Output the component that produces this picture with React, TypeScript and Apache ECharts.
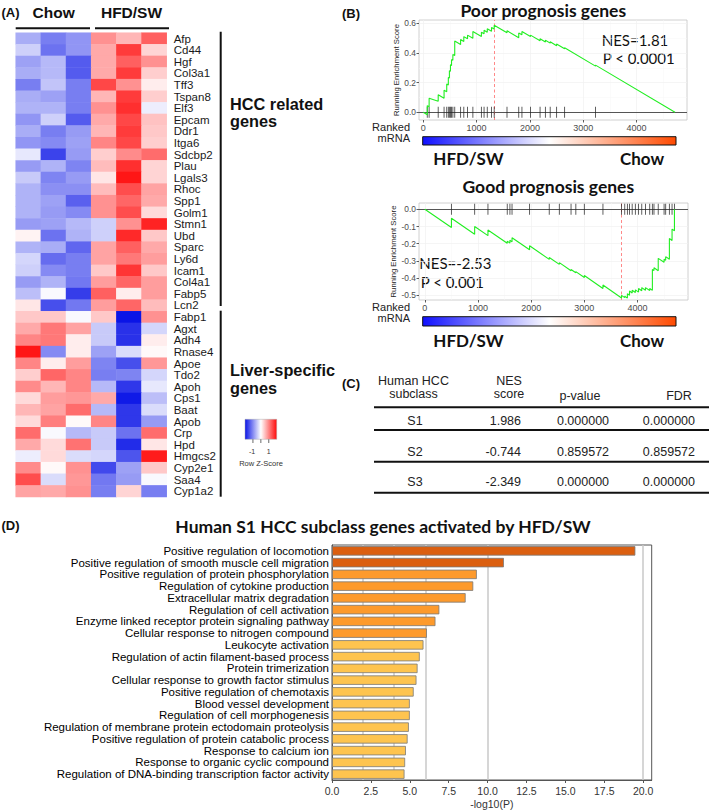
import React, { useEffect, useRef } from "react";
import * as echarts from "echarts";

// ---------------- Panel A data ----------------
const heatColumns = ["Chow 1", "Chow 2", "Chow 3", "HFD/SW 1", "HFD/SW 2", "HFD/SW 3"];
const hccGenes = ["Afp", "Cd44", "Hgf", "Col3a1", "Tff3", "Tspan8", "Elf3", "Epcam", "Ddr1", "Itga6", "Sdcbp2", "Plau", "Lgals3", "Rhoc", "Spp1", "Golm1", "Stmn1", "Ubd", "Sparc", "Ly6d", "Icam1", "Col4a1", "Fabp5", "Lcn2"];
const liverGenes = ["Fabp1", "Agxt", "Adh4", "Rnase4", "Apoe", "Tdo2", "Apoh", "Cps1", "Baat", "Apob", "Crp", "Hpd", "Hmgcs2", "Cyp2e1", "Saa4", "Cyp1a2"];
const zScores: number[][] = [
  [-0.7, -1.1, -0.9, 0.9, 0.6, 1.3],
  [-0.4, -1.2, -0.9, 0.7, 1.6, 0.35],
  [-0.8, -0.6, -1.4, 0.7, 1.3, 0.9],
  [-0.7, -0.6, -1.4, 0.7, 1.6, 0.4],
  [-1.1, -0.5, -1.1, 1.5, 0.9, 0.15],
  [-0.7, -0.8, -1.1, 0.6, 1.6, 0.4],
  [-0.65, -0.65, -1.1, 0.9, 1.7, -0.15],
  [-0.9, -0.4, -1.4, 0.7, 1.5, 0.5],
  [-0.7, -1.1, -0.85, 0.6, 1.6, 0.45],
  [-0.9, -1.0, -0.8, 1.0, 1.5, 0.4],
  [-0.2, -1.6, -0.85, 0.4, 0.95, 1.2],
  [-0.85, -0.65, -1.05, 0.55, 1.7, 0.35],
  [-0.45, -1.05, -0.85, 0.2, 1.9, 0.35],
  [-0.65, -0.95, -0.95, 0.55, 1.45, 0.75],
  [-0.65, -0.8, -1.35, 0.9, 1.25, 0.7],
  [-0.65, -0.85, -1.0, 0.9, 1.45, 0.3],
  [-0.85, -0.8, -0.6, -0.4, 0.9, 1.8],
  [0.1, -1.2, -0.65, -0.4, 1.75, 0.45],
  [-0.65, -0.7, -1.3, 0.75, 1.3, 0.7],
  [-0.35, -1.25, -1.1, 0.75, 1.1, 0.8],
  [-0.4, -1.0, -1.1, 0.45, 1.65, 0.45],
  [-0.85, -0.65, -1.15, 0.8, 1.25, 0.8],
  [-0.55, -0.05, -1.65, 1.3, 0.15, 0.8],
  [0.2, -1.5, -1.15, 0.8, 1.25, 0.55],
  [0.45, 0.45, -0.05, 0.45, -2.0, 0.9],
  [0.7, 1.1, 0.75, -0.45, -1.75, -0.35],
  [1.0, 1.1, 0.15, -0.45, -1.75, 0.15],
  [1.9, -1.0, 0.15, -0.8, -0.3, 0.05],
  [1.0, 0.15, 0.8, -1.05, -1.5, 0.85],
  [0.4, 1.25, 1.0, -1.1, -1.05, -0.35],
  [0.95, 0.6, 1.0, -0.6, -1.7, -0.2],
  [0.3, 0.8, 0.85, 0.7, -1.95, -0.55],
  [0.6, 0.75, 1.2, -0.6, -1.7, -0.3],
  [0.3, 1.05, 0.05, 1.0, -1.7, -0.85],
  [1.2, -0.05, -0.6, -0.45, -1.2, 1.2],
  [0.7, 0.3, 1.15, -0.45, -1.8, 0.2],
  [-0.15, 0.3, -0.3, -0.35, -1.45, 1.85],
  [0.95, 0.05, 0.9, -1.55, -0.8, 0.45],
  [1.45, -0.3, 0.85, -1.15, -0.85, -0.05],
  [0.75, 0.7, 0.9, -1.1, 0.35, -1.1],
];
const zLegendTicks = [-1, 0, 1];
const zLegendLabels = ["-1", "1"];

// ---------------- Panel B data ----------------
const rankTicks = [0, 1000, 2000, 3000, 4000];
const rankMinor = [500, 1500, 2500, 3500, 4500];
const poorYTicks = [0, 0.2, 0.4, 0.6];
const poorYMinor = [0.1, 0.3, 0.5];
const goodYTicks = [0, -0.1, -0.2, -0.3, -0.4, -0.5];
const poorCurveRank = [0, 75, 75, 110, 110, 280, 280, 390, 390, 440, 440, 470, 470, 490, 490, 510, 510, 530, 530, 555, 555, 590, 590, 700, 700, 760, 760, 830, 830, 930, 930, 1090, 1090, 1140, 1140, 1200, 1200, 1280, 1280, 1330, 1330, 1570, 1570, 1790, 1790, 1850, 1850, 2010, 2010, 2190, 2190, 2290, 2290, 2380, 2380, 2500, 2500, 2650, 2650, 3230, 3230, 4720];
const poorCurveScore = [0, -0.016, 0.045, 0.038, 0.094, 0.075, 0.118, 0.095, 0.148, 0.138, 0.19, 0.184, 0.235, 0.231, 0.28, 0.276, 0.32, 0.316, 0.355, 0.35, 0.39, 0.383, 0.48, 0.457, 0.49, 0.477, 0.51, 0.495, 0.52, 0.499, 0.545, 0.511, 0.54, 0.529, 0.553, 0.54, 0.563, 0.546, 0.572, 0.561, 0.587, 0.536, 0.55, 0.503, 0.535, 0.522, 0.545, 0.511, 0.52, 0.482, 0.495, 0.474, 0.485, 0.466, 0.475, 0.449, 0.46, 0.428, 0.435, 0.311, 0.318, 0];
const poorHits = [75, 110, 280, 390, 440, 470, 490, 510, 530, 555, 590, 700, 760, 830, 930, 1090, 1140, 1200, 1280, 1330, 1570, 1790, 1850, 2010, 2190, 2290, 2380, 2500, 2650, 3230];
const poorPeakRank = 1330;

const goodCurveRank = [0, 500, 500, 937, 937, 1187, 1187, 1550, 1550, 1600, 1600, 1640, 1640, 1970, 1970, 2340, 2340, 2530, 2530, 2750, 2750, 2840, 2840, 3000, 3000, 3350, 3350, 3700, 3700, 3760, 3760, 3810, 3810, 3850, 3850, 3900, 3900, 3960, 3960, 4020, 4020, 4080, 4080, 4150, 4150, 4230, 4230, 4280, 4280, 4310, 4310, 4390, 4390, 4500, 4500, 4530, 4530, 4600, 4600, 4650, 4650, 4695, 4695];
const goodCurveScore = [0, -0.106, -0.052, -0.145, -0.1, -0.153, -0.12, -0.197, -0.185, -0.196, -0.18, -0.189, -0.165, -0.235, -0.212, -0.291, -0.28, -0.32, -0.31, -0.357, -0.35, -0.369, -0.362, -0.396, -0.385, -0.46, -0.44, -0.515, -0.5, -0.513, -0.505, -0.516, -0.49, -0.499, -0.475, -0.486, -0.47, -0.483, -0.468, -0.481, -0.46, -0.473, -0.455, -0.47, -0.455, -0.472, -0.46, -0.471, -0.35, -0.356, -0.34, -0.357, -0.285, -0.308, -0.29, -0.296, -0.275, -0.29, -0.17, -0.181, -0.115, -0.125, 0];
const goodHits = [500, 937, 1187, 1550, 1600, 1640, 1970, 2340, 2530, 2750, 2840, 3000, 3350, 3700, 3760, 3810, 3850, 3900, 3960, 4020, 4080, 4150, 4230, 4280, 4310, 4390, 4500, 4530, 4600, 4650, 4695];
const goodPeakRank = 3700;

// ---------------- Panel C data ----------------
const tableSubclass = ["S1", "S2", "S3"];
const tableNES = ["1.986", "-0.744", "-2.349"];
const tablePValue = ["0.000000", "0.859572", "0.000000"];
const tableFDR = ["0.000000", "0.859572", "0.000000"];

// ---------------- Panel D data ----------------
const goTerms = [
  "Positive regulation of locomotion",
  "Positive regulation of smooth muscle cell migration",
  "Positive regulation of protein phosphorylation",
  "Regulation of cytokine production",
  "Extracellular matrix degradation",
  "Regulation of cell activation",
  "Enzyme linked receptor protein signaling pathway",
  "Cellular response to nitrogen compound",
  "Leukocyte activation",
  "Regulation of actin filament-based process",
  "Protein trimerization",
  "Cellular response to growth factor stimulus",
  "Positive regulation of chemotaxis",
  "Blood vessel development",
  "Regulation of cell morphogenesis",
  "Regulation of membrane protein ectodomain proteolysis",
  "Positive regulation of protein catabolic process",
  "Response to calcium ion",
  "Response to organic cyclic compound",
  "Regulation of DNA-binding transcription factor activity",
];
const goValues = [19.5, 11.05, 9.31, 9.08, 8.59, 6.9, 6.65, 6.1, 5.88, 5.64, 5.5, 5.43, 5.25, 5.0, 5.0, 4.94, 4.86, 4.75, 4.7, 4.66];
const goLevel = [0, 0, 1, 1, 1, 1, 1, 1, 2, 2, 2, 2, 2, 2, 2, 2, 2, 2, 2, 2];
const goTicks = [0, 2.5, 5, 7.5, 10, 12.5, 15, 17.5, 20];
const goRefLines = [2, 4, 6, 10, 20];

// ---------------- styling ----------------
const SANS = '"Liberation Sans", Arial, sans-serif';
const CAL = 'Lato, "Liberation Sans", sans-serif';
const levelColors = ["#DB5F10", "#FD9A2C", "#FEC44F"];

function txt(text: string, x: number, y: number, o: any = {}) {
  return {
    type: "text",
    x,
    y,
    silent: true,
    style: {
      text,
      fill: o.fill || "#111",
      fontSize: o.size || 12,
      fontWeight: o.weight || "normal",
      fontFamily: o.family || SANS,
      align: o.align || "left",
      verticalAlign: "middle",
    },
  };
}
function ln(x1: number, y1: number, x2: number, y2: number, w = 1, c = "#111") {
  return { type: "line", silent: true, shape: { x1, y1, x2, y2 }, style: { stroke: c, lineWidth: w } };
}

function gseaAxes(gridIndex: number, xmin: number, xmax: number, ymin: number, ymax: number, yTicks: number[]) {
  const x = {
    gridIndex,
    type: "value",
    min: xmin,
    max: xmax,
    axisLine: { show: false, onZero: false },
    splitLine: { show: false },
    axisTick: { show: true, length: 2.5, lineStyle: { color: "#333", width: 0.8 }, customValues: rankTicks },
    axisLabel: {
      customValues: rankTicks,
      fontSize: 9,
      color: "#4D4D4D",
      margin: 3.5,
      fontFamily: SANS,
      formatter: (v: number) => String(Math.round(v)),
    },
  };
  const y = {
    gridIndex,
    type: "value",
    min: ymin,
    max: ymax,
    axisLine: { show: false, onZero: false },
    splitLine: { show: false },
    axisTick: { show: true, length: 2.5, lineStyle: { color: "#333", width: 0.8 }, customValues: yTicks },
    axisLabel: {
      customValues: yTicks,
      fontSize: 8.4,
      color: "#4D4D4D",
      margin: 3,
      fontFamily: SANS,
      formatter: (v: number) => (Math.abs(v) < 1e-9 ? "0.0" : Number(v).toFixed(1)),
    },
    name: "Running Enrichment Score",
    nameLocation: "middle",
    nameRotate: 90,
    nameGap: 19,
    nameTextStyle: { fontSize: 7.7, color: "#222", fontFamily: SANS },
  };
  return { x, y };
}

function gseaSeries(idx: number, ranks: number[], scores: number[], hits: number[], peak: number, yMajor: number[], yMinor: number[]) {
  const gridColor = "#F0F0F0";
  const minorColor = "#F7F7F7";
  const lines: any[] = [
    ...rankMinor.map((v) => ({ xAxis: v, lineStyle: { color: minorColor, width: 0.5, type: "solid" } })),
    ...yMinor.map((v) => ({ yAxis: v, lineStyle: { color: minorColor, width: 0.5, type: "solid" } })),
    ...rankTicks.map((v) => ({ xAxis: v, lineStyle: { color: gridColor, width: 0.7, type: "solid" } })),
    ...yMajor.map((v) => ({ yAxis: v, lineStyle: { color: gridColor, width: 0.7, type: "solid" } })),
    { yAxis: 0, lineStyle: { color: "#555", width: 1, type: "solid" } },
    { xAxis: peak, lineStyle: { color: "#FF7A7A", width: 0.9, type: [3, 2.5] } },
  ];
  return [
    {
      type: "scatter",
      xAxisIndex: idx,
      yAxisIndex: idx,
      silent: true,
      z: 3,
      symbol: "rect",
      symbolSize: [0.9, 11],
      itemStyle: { color: "#222" },
      data: hits.map((r) => [r, 0]),
      markLine: { silent: true, z: 1, symbol: ["none", "none"], label: { show: false }, emphasis: { disabled: true }, data: lines },
    },
    {
      type: "line",
      xAxisIndex: idx,
      yAxisIndex: idx,
      silent: true,
      z: 4,
      symbol: "none",
      lineStyle: { color: "#22EE22", width: 1.1 },
      data: ranks.map((r, i) => [r, scores[i]]),
    },
  ];
}

function buildOption() {
  const genes = [...hccGenes, ...liverGenes];
  const heatData: any[] = [];
  genes.forEach((g, r) => zScores[r].forEach((v, c) => heatData.push([c, r, v])));

  const top = gseaAxes(1, -80, 4945, -0.052, 0.622, poorYTicks);
  const bot = gseaAxes(2, -110, 4950, -0.527, 0.0366, goodYTicks);

  const grad = (stops: [number, string][]) =>
    new echarts.graphic.LinearGradient(0, 0, 1, 0, stops.map(([offset, color]) => ({ offset, color })));
  const rankGrad = () => grad([[0, "#1010FF"], [0.5, "#FFFFFF"], [1, "#FF4A00"]]);

  const keyX0 = 245, keyW = 31.7, keyMin = -2, keyMax = 2;
  const keyPos = (v: number) => keyX0 + ((v - keyMin) / (keyMax - keyMin)) * keyW;

  const TC = "#222";
  const graphic: any[] = [
    // Panel A
    txt("(A)", 1.5, 12.7, { size: 13, weight: "bold" }),
    txt("Chow", 53.7, 12.7, { size: 15.5, weight: "bold", align: "center" }),
    txt("HFD/SW", 131.5, 12.7, { size: 15.5, weight: "bold", align: "center" }),
    ln(15.7, 28.3, 90, 28.3, 2),
    ln(95, 28.3, 169, 28.3, 2),
    ln(220.7, 31.7, 220.7, 306, 2),
    ln(220.7, 310.7, 220.7, 496.7, 2),
    txt("HCC related", 230, 103.5, { size: 16.3, weight: "bold" }),
    txt("genes", 230, 121, { size: 16.3, weight: "bold" }),
    txt("Liver-specific", 230, 369.8, { size: 16.3, weight: "bold" }),
    txt("genes", 230, 387.5, { size: 16.3, weight: "bold" }),
    {
      type: "rect",
      silent: true,
      shape: { x: keyX0, y: 419.3, width: keyW, height: 20 },
      style: { fill: grad([[0, "#0A14E6"], [0.5, "#FFFFFF"], [1, "#FF0A0A"]]), stroke: "#AAA", lineWidth: 0.5 },
    },
    ...zLegendTicks.map((v) => ln(keyPos(v), 439.3, keyPos(v), 443, 0.8, "#444")),
    txt(zLegendLabels[0], keyPos(-1) - 0.8, 451.7, { size: 7, align: "center", fill: "#333" }),
    txt(zLegendLabels[1], keyPos(1), 451.7, { size: 7, align: "center", fill: "#333" }),
    txt("Row Z-Score", 261, 463.5, { size: 7.5, align: "center", fill: "#333" }),

    // Panel B
    txt("(B)", 342, 13, { size: 13, weight: "bold" }),
    txt("Poor prognosis genes", 543.3, 10.5, { size: 17.5, weight: "bold", family: CAL, align: "center" }),
    txt("NES=1.81", 601.7, 40, { size: 15, family: CAL }),
    txt("P < 0.0001", 602.7, 58.3, { size: 15, family: CAL }),
    txt("Ranked", 410, 127, { size: 11, align: "right", fill: "#222" }),
    txt("mRNA", 410, 137.5, { size: 11, align: "right", fill: "#222" }),
    { type: "rect", silent: true, shape: { x: 422.7, y: 136.7, width: 253.3, height: 8.3 }, style: { fill: rankGrad(), stroke: "#111", lineWidth: 1 } },
    txt("HFD/SW", 433.3, 158.3, { size: 17, weight: "bold", family: CAL }),
    txt("Chow", 620, 158.3, { size: 17, weight: "bold", family: CAL }),
    txt("Good prognosis genes", 548.3, 186.7, { size: 17.5, weight: "bold", family: CAL, align: "center" }),
    txt("NES=-2.53", 419.3, 262.7, { size: 15, family: CAL }),
    txt("P < 0.001", 420.7, 281.7, { size: 15, family: CAL }),
    txt("Ranked", 410, 306.7, { size: 11, align: "right", fill: "#222" }),
    txt("mRNA", 410, 318.3, { size: 11, align: "right", fill: "#222" }),
    { type: "rect", silent: true, shape: { x: 422.7, y: 316.7, width: 253.3, height: 9.3 }, style: { fill: rankGrad(), stroke: "#111", lineWidth: 1 } },
    txt("HFD/SW", 433.3, 340, { size: 17, weight: "bold", family: CAL }),
    txt("Chow", 620, 340, { size: 17, weight: "bold", family: CAL }),

    // Panel C
    txt("(C)", 342, 383, { size: 13, weight: "bold" }),
    txt("Human HCC", 413.5, 380.5, { size: 12.5, align: "center", fill: TC }),
    txt("subclass", 413.5, 393.5, { size: 12.5, align: "center", fill: TC }),
    txt("NES", 509, 380.5, { size: 12.5, align: "center", fill: TC }),
    txt("score", 509, 393.5, { size: 12.5, align: "center", fill: TC }),
    txt("p-value", 580, 395.5, { size: 12.5, align: "center", fill: TC }),
    txt("FDR", 679, 395.5, { size: 12.5, align: "center", fill: TC }),
    ln(374, 407.3, 709, 407.3, 2),
    ln(374, 430, 709, 430, 2),
    ln(374, 461.7, 709, 461.7, 2),
    ln(374, 492.7, 709, 492.7, 2),
    ...tableSubclass.flatMap((s, i) => {
      const y = [420.5, 451.5, 481.7][i];
      return [
        txt(s, 415, y, { size: 12.5, align: "center", fill: TC }),
        txt(tableNES[i], 521, y, { size: 12.5, align: "right", fill: TC }),
        txt(tablePValue[i], 583, y, { size: 12.5, align: "center", fill: TC }),
        txt(tableFDR[i], 695, y, { size: 12.5, align: "right", fill: TC }),
      ];
    }),

    // Panel D
    txt("(D)", 1.5, 525.7, { size: 13, weight: "bold" }),
    txt("Human S1 HCC subclass genes activated by HFD/SW", 383, 526.5, { size: 17.5, weight: "bold", family: CAL, align: "center" }),
  ];

  return {
    animation: false,
    backgroundColor: "#FFFFFF",
    textStyle: { fontFamily: SANS },
    grid: [
      { left: 15.7, top: 32.7, width: 151, height: 464.3 },
      { left: 419, top: 20, width: 268, height: 100, show: true, borderColor: "#C4C4C4", borderWidth: 0.8, backgroundColor: "transparent" },
      { left: 419, top: 203, width: 269, height: 97, show: true, borderColor: "#C4C4C4", borderWidth: 0.8, backgroundColor: "transparent" },
      { left: 332, top: 545, width: 319.7, height: 235, show: true, borderColor: "#555", borderWidth: 1, backgroundColor: "transparent" },
    ],
    xAxis: [
      { gridIndex: 0, type: "category", data: heatColumns, show: false },
      top.x,
      bot.x,
      {
        gridIndex: 3,
        type: "value",
        min: 0,
        max: 20.55,
        splitLine: { show: false },
        axisLine: { show: true, onZero: false, lineStyle: { color: "#555", width: 1 } },
        axisTick: { show: true, length: 3, lineStyle: { color: "#555" }, customValues: goTicks },
        axisLabel: { customValues: goTicks, fontSize: 10.5, color: "#333", margin: 5, formatter: (v: number) => Number(v).toFixed(1) },
        name: "-log10(P)",
        nameLocation: "middle",
        nameGap: 18,
        nameTextStyle: { fontSize: 10.5, color: "#333" },
      },
    ],
    yAxis: [
      {
        gridIndex: 0,
        type: "category",
        data: genes,
        inverse: true,
        position: "right",
        axisLine: { show: false },
        axisTick: { show: false },
        axisLabel: { fontSize: 11.5, color: "#1A1A1A", margin: 7, fontFamily: SANS, interval: 0 },
      },
      top.y,
      bot.y,
      {
        gridIndex: 3,
        type: "category",
        data: goTerms,
        inverse: true,
        axisLine: { show: true, onZero: false, lineStyle: { color: "#555", width: 1 } },
        axisTick: { show: false },
        axisLabel: { fontSize: 11.5, color: "#000", margin: 3, interval: 0 },
      },
    ],
    visualMap: {
      type: "continuous",
      show: false,
      seriesIndex: 0,
      min: -2,
      max: 2,
      inRange: { color: ["#0A14E6", "#FFFFFF", "#FF0A0A"] },
    },
    series: [
      {
        type: "heatmap",
        xAxisIndex: 0,
        yAxisIndex: 0,
        silent: true,
        data: heatData,
        emphasis: { disabled: true },
      },
      ...gseaSeries(1, poorCurveRank, poorCurveScore, poorHits, poorPeakRank, poorYTicks, poorYMinor),
      ...gseaSeries(2, goodCurveRank, goodCurveScore, goodHits, goodPeakRank, goodYTicks, []),
      {
        type: "bar",
        xAxisIndex: 3,
        yAxisIndex: 3,
        silent: true,
        z: 2,
        barCategoryGap: "20%",
        itemStyle: { borderColor: "#7A7A7A", borderWidth: 0.8 },
        data: goValues.map((v, i) => ({ value: v, itemStyle: { color: levelColors[goLevel[i]] } })),
        markLine: {
          silent: true,
          z: 1,
          symbol: ["none", "none"],
          label: { show: false },
          emphasis: { disabled: true },
          lineStyle: { color: "#C8C8C8", width: 1.5, type: "solid" },
          data: goRefLines.map((v) => ({ xAxis: v })),
        },
      },
    ],
    graphic,
  };
}

export default function App() {
  const ref = useRef<HTMLDivElement>(null);
  useEffect(() => {
    if (!ref.current) return;
    const chart = echarts.init(ref.current, null, { renderer: "svg" });
    chart.setOption(buildOption() as any);
    return () => chart.dispose();
  }, []);
  return (
    <div
      ref={ref}
      style={{ position: "absolute", left: 0, top: 0, width: 709, height: 812, background: "#FFFFFF" }}
    />
  );
}
